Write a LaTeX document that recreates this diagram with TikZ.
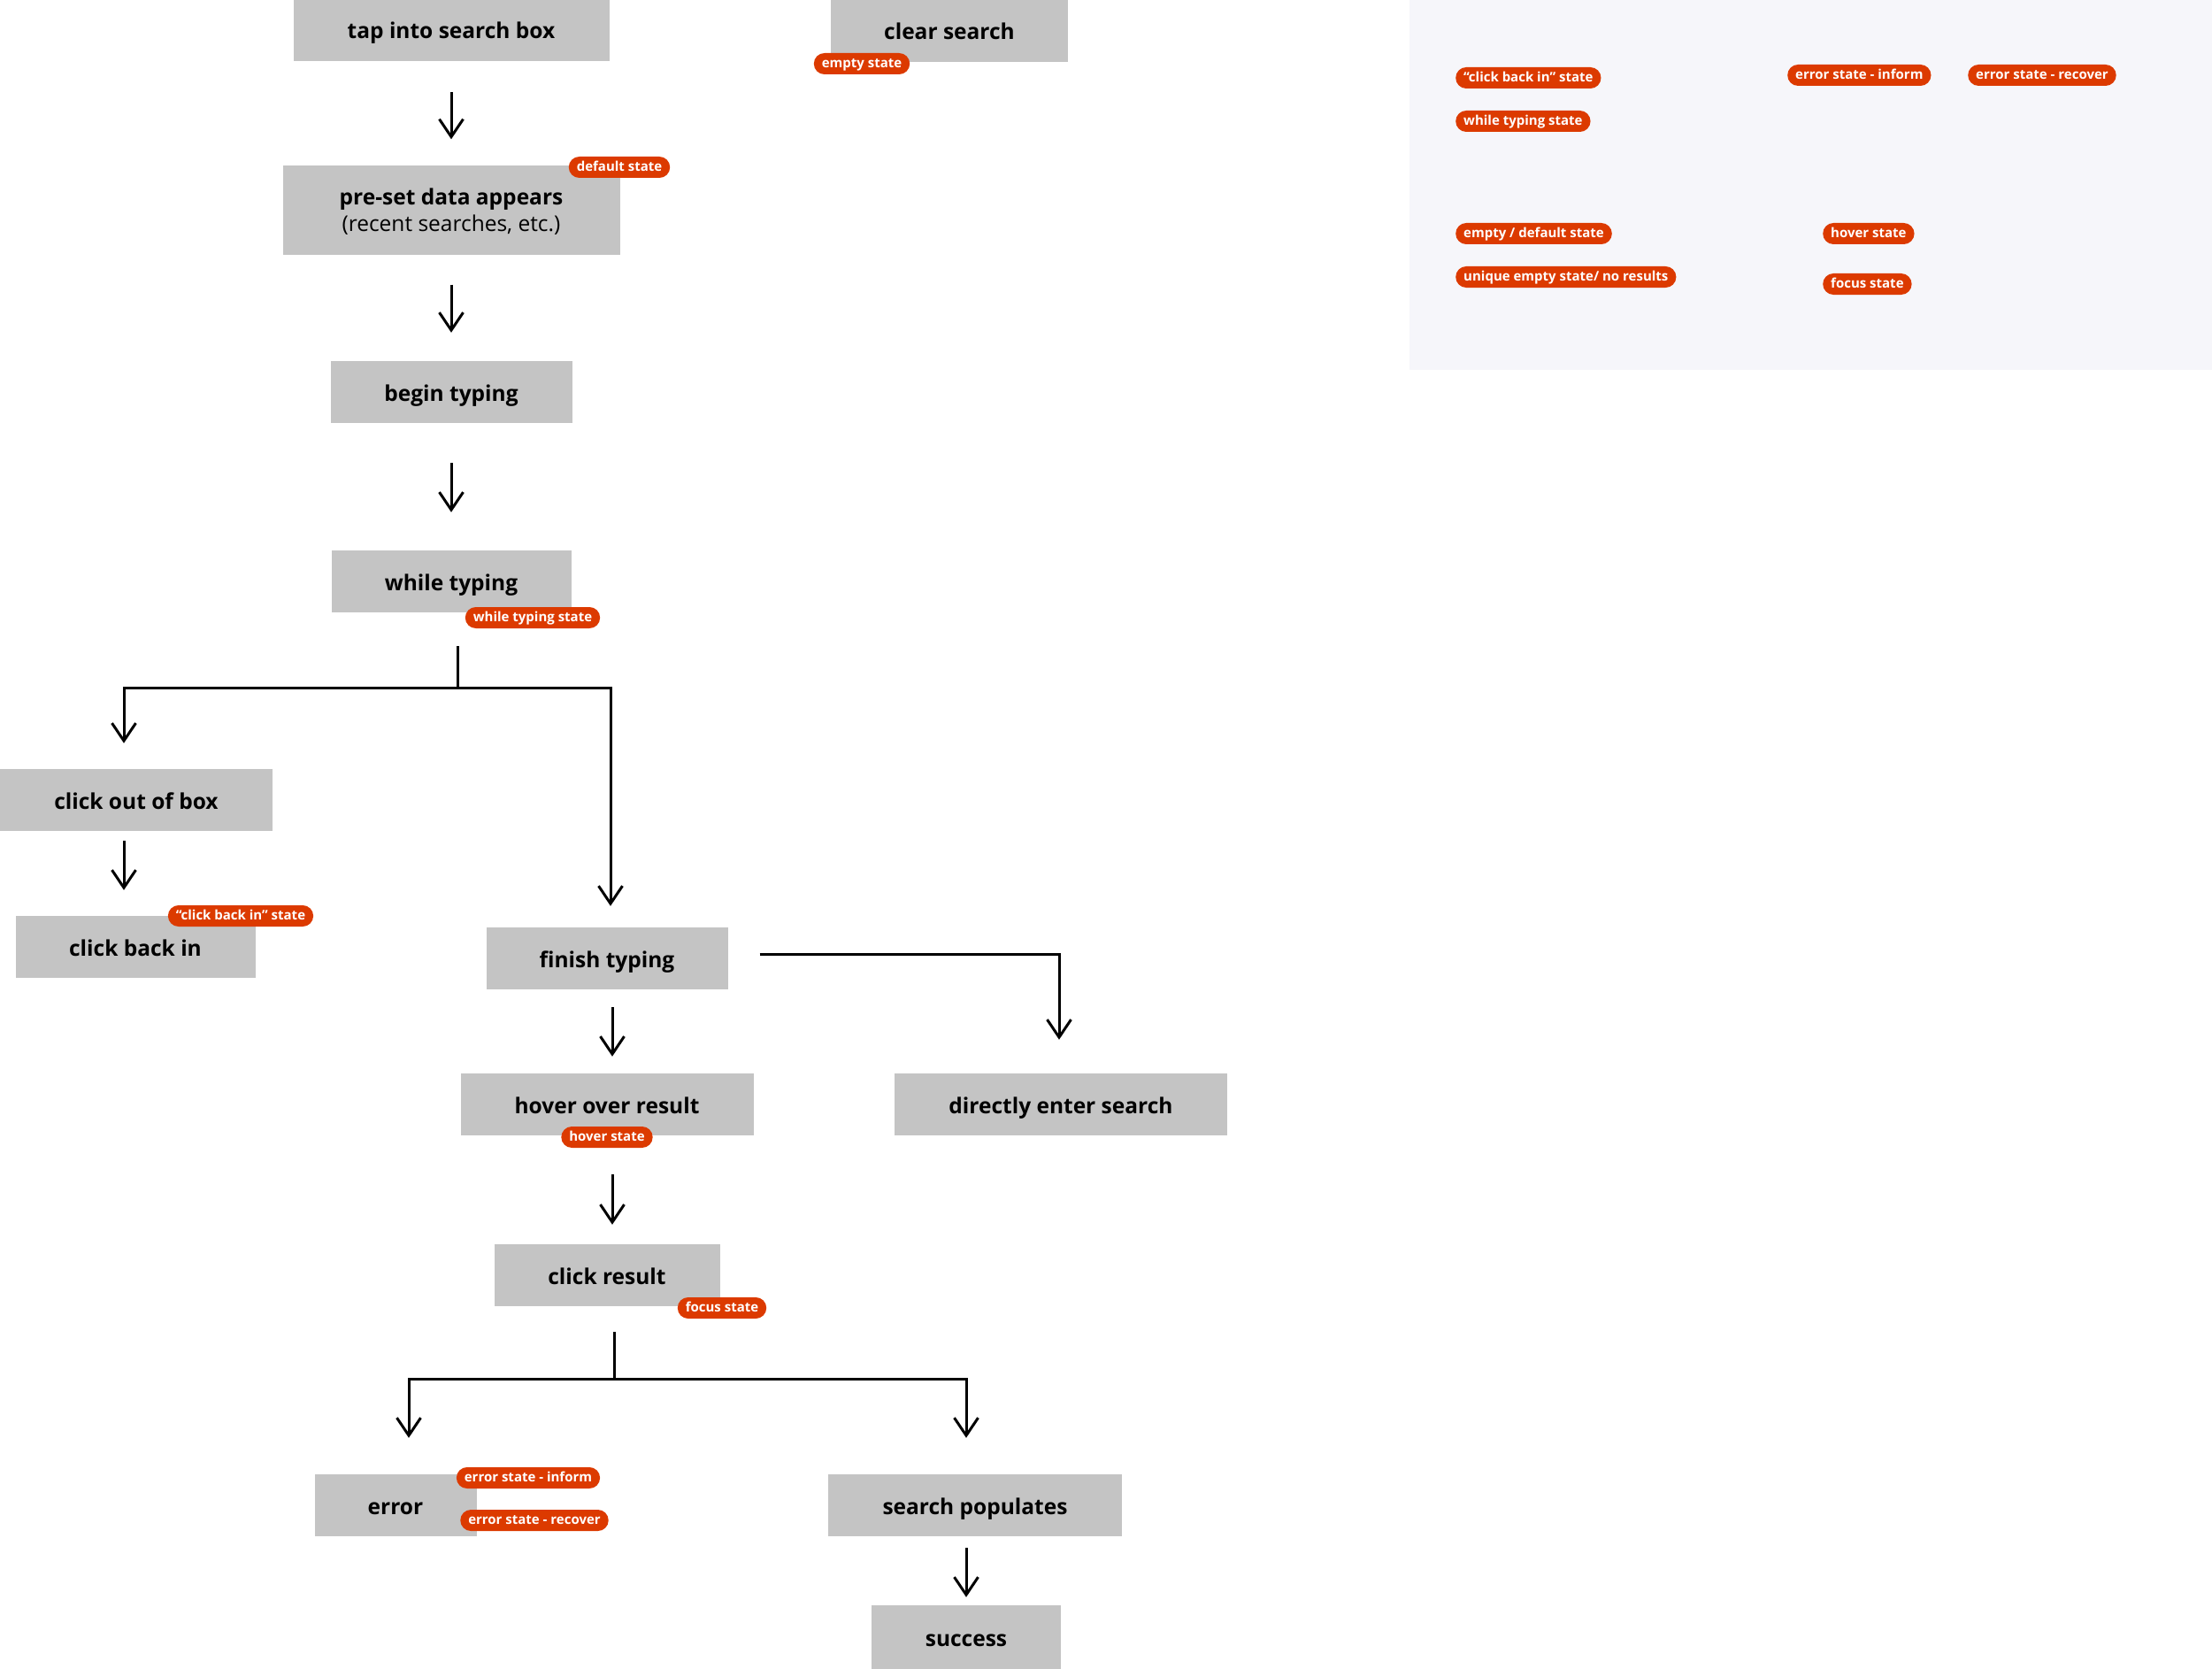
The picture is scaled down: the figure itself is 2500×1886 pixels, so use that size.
\documentclass[tikz,border=0pt]{standalone}
\usepackage{fontspec}
\setmainfont{Open Sans}
\usepackage{tikz}
\usetikzlibrary{
  arrows.meta,
  positioning
}
\definecolor{boxgray}{RGB}{196,196,196}
\definecolor{statered}{RGB}{220,58,0}
\definecolor{legendbg}{RGB}{246,246,250}

\begin{document}
\begin{tikzpicture}[x=1pt, y=-1pt,
  stepbox/.style={fill=boxgray, inner sep=0pt, minimum height=70pt,
    text height=26pt, text depth=6pt,
    align=center, font=\fontsize{24.5}{30}\selectfont\bfseries},
  statepill/.style={fill=statered, text=white, rounded corners=12pt,
    minimum height=24pt, inner xsep=9pt, inner ysep=0pt,
    text height=12pt, text depth=3pt,
    font=\fontsize{15}{18}\selectfont\bfseries},
  link/.style={line width=3pt},
  flow/.style={link, -{Straight Barb[length=20pt,width=27pt]}}]

  \useasboundingbox (0,0) rectangle (2500,1886);

  %% ===== LEGEND (top right panel) =====
  \fill[legendbg] (1593,0) rectangle (2500,418);

  \node[statepill, anchor=west] (lgclickback) at (1645,88)  {“click back in” state};
  \node[statepill, anchor=west] (lgtyping)    at (1645,137) {while typing state};
  \node[statepill, anchor=west] (lginform)    at (2020,85)  {error state - inform};
  \node[statepill, anchor=west] (lgrecover)   at (2224,85)  {error state - recover};
  \node[statepill, anchor=west] (lgempty)     at (1645,264) {empty / default state};
  \node[statepill, anchor=west] (lgnoresult)  at (1645,313) {unique empty state/ no results};
  \node[statepill, anchor=west] (lghover)     at (2060,264) {hover state};
  \node[statepill, anchor=west] (lgfocus)     at (2060,321) {focus state};

  %% ===== STEPS =====
  \node[stepbox, minimum width=357pt] (tap) at (510,34) {tap into search box};
  \node[stepbox, minimum width=268pt] (clear) at (1073,35) {clear search};
  \node[stepbox, minimum width=381pt, minimum height=101pt,
    text height=54pt, text depth=6pt] (preset) at (510,238)
    {pre-set data appears\\\mdseries(recent searches, etc.)};
  \node[stepbox, minimum width=273pt] (begintyping) at (510,443) {begin typing};
  \node[stepbox, minimum width=271pt] (whiletyping) at (510,657) {while typing};
  \node[stepbox, minimum width=308pt] (clickout) at (154,904) {click out of box};
  \node[stepbox, minimum width=271pt] (clickback) at (153,1070) {click back in};
  \node[stepbox, minimum width=273pt] (finish) at (686,1083) {finish typing};
  \node[stepbox, minimum width=331pt] (hover) at (686,1248) {hover over result};
  \node[stepbox, minimum width=376pt] (direct) at (1199,1248) {directly enter search};
  \node[stepbox, minimum width=255pt] (clickres) at (686,1441) {click result};
  \node[stepbox, minimum width=183pt] (error) at (447,1701) {error};
  \node[stepbox, minimum width=332pt] (populates) at (1102,1701) {search populates};
  \node[stepbox, minimum width=214pt, minimum height=72pt] (success) at (1092,1850) {success};

  %% ===== CONNECTORS =====
  \draw[flow, shorten <=35pt, shorten >=30pt] (tap) -- (preset);
  \draw[flow, shorten <=33pt, shorten >=32pt] (preset) -- (begintyping);
  \draw[flow, shorten <=45pt, shorten >=43pt] (begintyping) -- (whiletyping);

  % first split
  \coordinate (split1) at (517,777);
  \draw[link, shorten <=38pt] (whiletyping.south -| split1) -- (split1);
  \draw[flow, shorten >=29pt] (split1) -| ([xshift=-14pt]clickout.north);
  \draw[flow, shorten >=24pt] (split1) -| ([xshift=4pt]finish.north);
  \draw[flow, shorten <=11pt, shorten >=29pt]
    ([xshift=-14pt]clickout.south) -- ([xshift=-13pt]clickback.north);

  \draw[flow, shorten <=36pt, shorten >=38pt]
    ([yshift=5pt]finish.east) -| ([xshift=-2pt]direct.north);
  \draw[flow, shorten <=20pt, shorten >=19pt]
    ([xshift=6pt]finish.south) -- ([xshift=6pt]hover.north);
  \draw[flow, shorten <=44pt, shorten >=22pt]
    ([xshift=6pt]hover.south) -- ([xshift=6pt]clickres.north);

  % second split
  \coordinate (split2) at (694,1558);
  \draw[link, shorten <=29pt] (clickres.south -| split2) -- (split2);
  \draw[flow, shorten >=41pt] (split2) -| ([xshift=15pt]error.north);
  \draw[flow, shorten >=41pt] (split2) -| ([xshift=-10pt]populates.north);
  \draw[flow, shorten <=13pt, shorten >=9pt]
    ([xshift=-10pt]populates.south) -- (success);

  %% ===== STATE LABELS =====
  \node[statepill] (emptypill)     at (974,72)   {empty state};
  \node[statepill] (defaultpill)   at (700,189)  {default state};
  \node[statepill] (typingpill)    at (602,698)  {while typing state};
  \node[statepill] (clickbackpill) at (272,1035) {“click back in” state};
  \node[statepill] (hoverpill)     at (686,1285) {hover state};
  \node[statepill] (focuspill)     at (816,1478) {focus state};
  \node[statepill] (informpill)    at (597,1670) {error state - inform};
  \node[statepill] (recoverpill)   at (604,1718) {error state - recover};

\end{tikzpicture}
\end{document}
